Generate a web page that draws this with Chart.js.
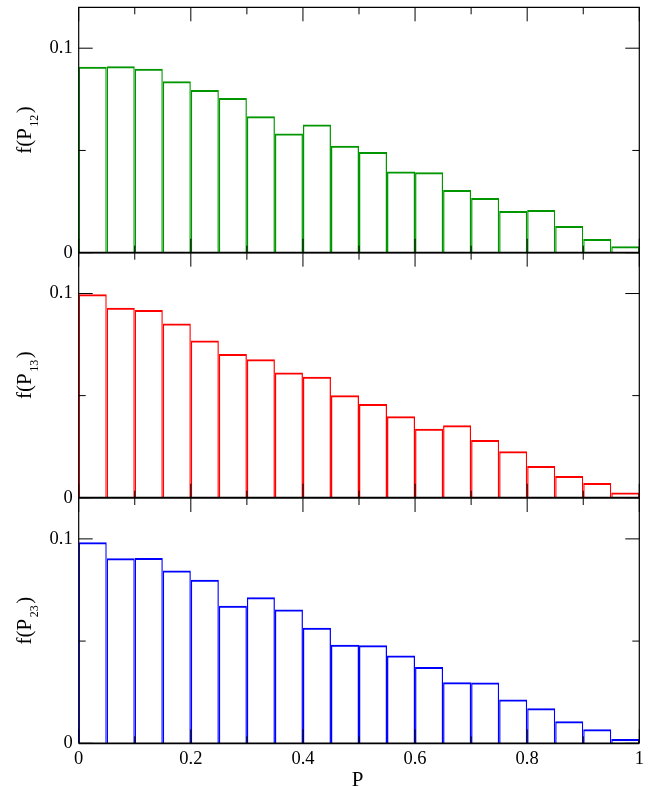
<!DOCTYPE html>
<html>
<head>
<meta charset="utf-8">
<title>f(P) histograms</title>
<script src="https://cdn.jsdelivr.net/npm/chart.js@4.4.0/dist/chart.umd.min.js"></script>
<style>
  html, body { margin: 0; padding: 0; background: #fff; }
  #wrap { position: relative; width: 655px; height: 787px; }
  #wrap canvas { position: absolute; left: 0; top: 0; }
</style>
</head>
<body>
<div id="wrap">
  <canvas id="p12" width="655" height="787"></canvas>
  <canvas id="p13" width="655" height="787"></canvas>
  <canvas id="p23" width="655" height="787"></canvas>
</div>
<script>
/* ---------- data ---------- */
// bin centres, bin width 0.05
const binCenters = [0.025, 0.075, 0.125, 0.175, 0.225, 0.275, 0.325, 0.375, 0.425, 0.475,
                    0.525, 0.575, 0.625, 0.675, 0.725, 0.775, 0.825, 0.875, 0.925, 0.975];

const f12 = [0.0909, 0.0912, 0.0900, 0.0838, 0.0796, 0.0757, 0.0667, 0.0583, 0.0627, 0.0523,
             0.0492, 0.0397, 0.0394, 0.0307, 0.0268, 0.0204, 0.0209, 0.0131, 0.0067, 0.0031];
const f13 = [0.0997, 0.0930, 0.0919, 0.0853, 0.0770, 0.0704, 0.0678, 0.0613, 0.0592, 0.0502,
             0.0459, 0.0399, 0.0338, 0.0355, 0.0283, 0.0227, 0.0155, 0.0106, 0.0072, 0.0026];
const f23 = [0.0983, 0.0905, 0.0907, 0.0845, 0.0800, 0.0673, 0.0714, 0.0655, 0.0565, 0.0482,
             0.0480, 0.0429, 0.0373, 0.0299, 0.0297, 0.0214, 0.0172, 0.0108, 0.0069, 0.0021];

const xTicks = [0, 0.2, 0.4, 0.6, 0.8, 1];
const xMinorTicks = [0.1, 0.3, 0.5, 0.7, 0.9];
const yTicks = [0, 0.1];
const yMinorTicks = [0.05];

/* ---------- look ---------- */
const SERIF = '"Liberation Serif", "Times New Roman", serif';
const W = 655, H = 787;
const AREA_LEFT = 78.7, AREA_RIGHT = 639.3;
const MAJOR_LEN = 14, MINOR_LEN = 7;

const panels = [
  { id: "p12", values: f12, color: "#009600", sub: "12", top: 7.3,   bottom: 252.7, showX: false },
  { id: "p13", values: f13, color: "#ff0000", sub: "13", top: 252.7, bottom: 497.7, showX: false },
  { id: "p23", values: f23, color: "#0000ff", sub: "23", top: 498,   bottom: 743.3, showX: true }
];
const X_AXIS_H = 30;

/* ---------- frame, inward ticks and axis titles ---------- */
const panelFrame = {
  id: "panelFrame",
  afterDatasetsDraw(chart, args, opts) {
    const { ctx, chartArea: a, scales: { x, y } } = chart;
    ctx.save();
    ctx.strokeStyle = "#000";
    ctx.lineWidth = 1;

    ctx.beginPath();
    const vTick = (v, len) => {
      const px = x.getPixelForValue(v);
      ctx.moveTo(px, a.bottom); ctx.lineTo(px, a.bottom - len);
      ctx.moveTo(px, a.top);    ctx.lineTo(px, a.top + len);
    };
    const hTick = (v, len) => {
      const py = y.getPixelForValue(v);
      ctx.moveTo(a.left, py);  ctx.lineTo(a.left + len, py);
      ctx.moveTo(a.right, py); ctx.lineTo(a.right - len, py);
    };
    xTicks.forEach(v => vTick(v, MAJOR_LEN));
    xMinorTicks.forEach(v => vTick(v, MINOR_LEN));
    yTicks.forEach(v => hTick(v, MAJOR_LEN));
    yMinorTicks.forEach(v => hTick(v, MINOR_LEN));
    ctx.stroke();

    ctx.lineWidth = 1.2;
    ctx.beginPath();
    ctx.moveTo(a.left, a.bottom); ctx.lineTo(a.left, a.top);
    ctx.lineTo(a.right, a.top);   ctx.lineTo(a.right, a.bottom);
    ctx.stroke();
    ctx.lineWidth = 1.8;
    ctx.beginPath();
    ctx.moveTo(a.left, a.bottom); ctx.lineTo(a.right, a.bottom);
    ctx.stroke();

    // y title f(P_sub), rotated
    const mainFont = "21px " + SERIF;
    const subFont = "12px " + SERIF;
    ctx.fillStyle = "#000";
    ctx.font = mainFont;
    const w1 = ctx.measureText("f(P").width;
    const w3 = ctx.measureText(")").width;
    ctx.font = subFont;
    const w2 = ctx.measureText(opts.sub).width;
    const total = w1 + w2 + w3 + 3;

    ctx.save();
    ctx.translate(31, (a.top + a.bottom) / 2);
    ctx.rotate(-Math.PI / 2);
    ctx.textBaseline = "alphabetic";
    ctx.textAlign = "left";
    let tx = -total / 2;
    ctx.font = mainFont;
    ctx.fillText("f(P", tx, 0);
    tx += w1 + 1.5;
    ctx.font = subFont;
    ctx.fillText(opts.sub, tx, 6.5);
    tx += w2 + 1.5;
    ctx.font = mainFont;
    ctx.fillText(")", tx, 0);
    ctx.restore();

    if (opts.showX) {
      ctx.font = mainFont;
      ctx.textAlign = "center";
      ctx.textBaseline = "alphabetic";
      ctx.fillText("P", (a.left + a.right) / 2 - 1.5, 785.5);
    }
    ctx.restore();
  }
};

/* ---------- build the three panels ---------- */
panels.forEach(p => {
  new Chart(document.getElementById(p.id), {
    type: "bar",
    data: {
      datasets: [{
        data: binCenters.map((c, i) => ({ x: c, y: p.values[i] })),
        backgroundColor: "rgba(0,0,0,0)",
        borderColor: p.color,
        // neighbouring bars share an edge, so each side gets half a line
        borderWidth: { top: 2, left: 1.25, right: 1.25, bottom: 0 },
        borderSkipped: false,
        inflateAmount: 0,
        categoryPercentage: 1,
        barPercentage: 1
      }]
    },
    options: {
      responsive: false,
      animation: false,
      events: [],
      layout: {
        padding: {
          left: 0,
          right: W - AREA_RIGHT,
          top: p.top,
          bottom: H - p.bottom - (p.showX ? X_AXIS_H : 0)
        }
      },
      plugins: {
        legend: { display: false },
        tooltip: { enabled: false },
        panelFrame: { sub: p.sub, showX: p.showX }
      },
      scales: {
        x: {
          type: "linear",
          min: 0,
          max: 1,
          offset: false,
          display: p.showX,
          grid: { display: false, drawTicks: false, offset: false },
          border: { display: false },
          afterBuildTicks: s => { s.ticks = xTicks.map(v => ({ value: v })); },
          afterFit: s => {
            s.height = p.showX ? X_AXIS_H : 0;
            s.paddingLeft = 0;
            s.paddingRight = 0;
          },
          ticks: {
            color: "#000",
            padding: 5,
            maxRotation: 0,
            autoSkip: false,
            font: { family: SERIF, size: 18.5 },
            callback: v => String(v)
          }
        },
        y: {
          min: 0,
          max: 0.12,
          grid: { display: false, drawTicks: false },
          border: { display: false },
          afterBuildTicks: s => { s.ticks = yTicks.map(v => ({ value: v })); },
          afterFit: s => {
            s.width = AREA_LEFT;
            s.paddingTop = 0;
            s.paddingBottom = 0;
          },
          ticks: {
            color: "#000",
            padding: 6,
            font: { family: SERIF, size: 18.5 },
            callback: v => String(v)
          }
        }
      }
    },
    plugins: [panelFrame]
  });
});
</script>
</body>
</html>
